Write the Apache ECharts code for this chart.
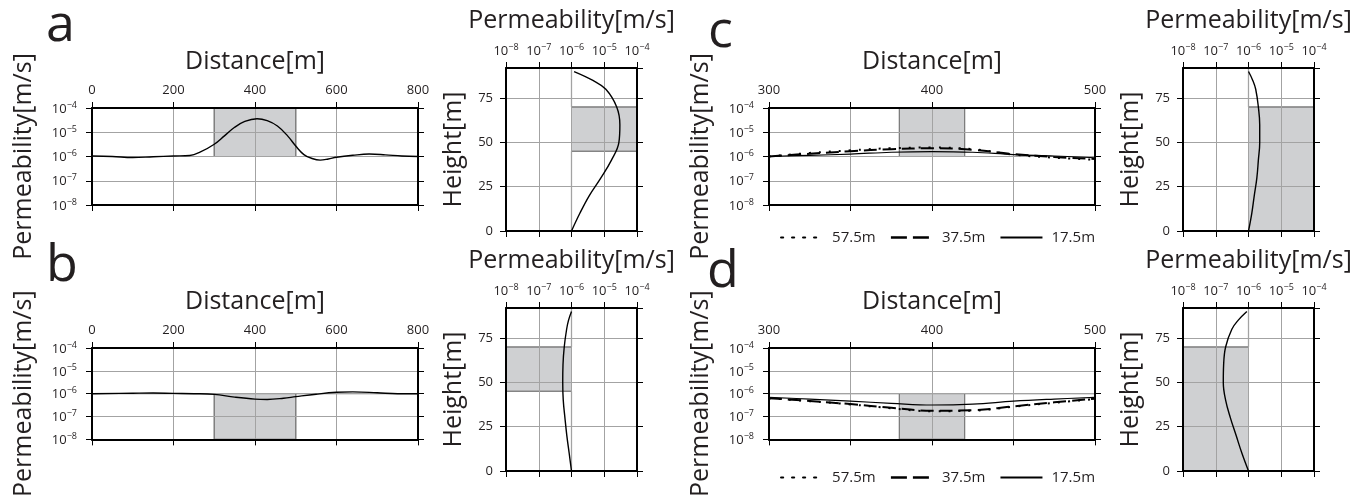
<!DOCTYPE html>
<html>
<head>
<meta charset="utf-8">
<script src="https://cdn.jsdelivr.net/npm/echarts@6/dist/echarts.min.js"></script>
<style>
  html, body { margin: 0; padding: 0; background: #fff; }
  #chart { width: 1365px; height: 499px; }
</style>
</head>
<body>
<div id="chart"></div>
<script>
// horizontal profiles (left panels): distance [m] -> permeability [m/s]
var aDist = [0, 50, 100, 150, 200, 240, 265, 300, 325, 350, 375, 405, 430, 455, 480, 500, 520, 540, 560, 580, 600, 640, 680, 720, 760, 800];
var aPerm = [1.05e-6, 1.0e-6, 9.1e-7, 9.8e-7, 1.05e-6, 1.1e-6, 1.5e-6, 3.2e-6, 7.1e-6, 1.6e-5, 2.8e-5, 3.6e-5, 3.0e-5, 1.8e-5, 7.1e-6, 2.7e-6, 1.2e-6, 8.3e-7, 7.1e-7, 7.9e-7, 9.3e-7, 1.12e-6, 1.26e-6, 1.17e-6, 1.05e-6, 1.0e-6];
var bDist = [0, 100, 150, 200, 250, 300, 350, 400, 430, 470, 500, 550, 600, 640, 700, 750, 800];
var bPerm = [1.0e-6, 1.05e-6, 1.07e-6, 1.03e-6, 1.0e-6, 9.3e-7, 7.1e-7, 5.8e-7, 5.6e-7, 6.3e-7, 7.4e-7, 9.5e-7, 1.15e-6, 1.2e-6, 1.1e-6, 1.0e-6, 1.0e-6];

// zoomed profiles (c, d) at three heights
var zoomDist = [300, 325, 350, 375, 400, 425, 450, 475, 500];
var c575 = [1.0e-6, 1.4e-6, 1.8e-6, 2.2e-6, 2.35e-6, 2.0e-6, 1.2e-6, 8.9e-7, 7.4e-7];
var c375 = [1.0e-6, 1.3e-6, 1.65e-6, 2.0e-6, 2.2e-6, 1.9e-6, 1.26e-6, 9.5e-7, 7.9e-7];
var c175 = [1.0e-6, 1.12e-6, 1.26e-6, 1.5e-6, 1.6e-6, 1.5e-6, 1.2e-6, 1.05e-6, 8.9e-7];
var d575 = [6.3e-7, 4.7e-7, 3.4e-7, 2.3e-7, 1.7e-7, 1.8e-7, 2.7e-7, 4.0e-7, 5.8e-7];
var d375 = [6.3e-7, 4.8e-7, 3.5e-7, 2.4e-7, 1.8e-7, 1.9e-7, 2.8e-7, 4.2e-7, 6.0e-7];
var d175 = [6.9e-7, 5.8e-7, 4.7e-7, 3.8e-7, 3.2e-7, 3.5e-7, 4.7e-7, 5.8e-7, 6.9e-7];
var lineNames = ['57.5m', '37.5m', '17.5m'];

// vertical profiles (right panels): height [m] -> permeability [m/s]
var profHeight = [0, 10, 20, 30, 40, 50, 60, 70, 80, 85, 90];
var aProf = [1.0e-6, 1.8e-6, 3.5e-6, 7.9e-6, 1.66e-5, 2.8e-5, 3.0e-5, 2.4e-5, 1.12e-5, 4.5e-6, 1.2e-6];
var bProf = [1.0e-6, 8.5e-7, 7.2e-7, 6.3e-7, 5.6e-7, 5.4e-7, 5.5e-7, 6.0e-7, 7.1e-7, 8.1e-7, 1.0e-6];
var cProf = [1.0e-6, 1.26e-6, 1.5e-6, 1.8e-6, 2.0e-6, 2.2e-6, 2.2e-6, 2.0e-6, 1.66e-6, 1.35e-6, 1.0e-6];
var dProf = [1.0e-6, 6.3e-7, 4.2e-7, 2.8e-7, 2.0e-7, 1.7e-7, 1.74e-7, 2.0e-7, 3.1e-7, 4.8e-7, 8.9e-7];

// true models (grey)
var aModelDist = [0, 300, 300, 500, 500, 800];
var aModelPerm = [1e-6, 1e-6, 1e-4, 1e-4, 1e-6, 1e-6];
var bModelPerm = [1e-6, 1e-6, 1e-8, 1e-8, 1e-6, 1e-6];
var zoomModelDist = [300, 380, 380, 420, 420, 500];
var cModelPerm = [1e-6, 1e-6, 1e-4, 1e-4, 1e-6, 1e-6];
var dModelPerm = [1e-6, 1e-6, 1e-8, 1e-8, 1e-6, 1e-6];
var abModelHeight = [0, 45, 45, 70, 70, 92];
var aModelProf = [1e-6, 1e-6, 1e-4, 1e-4, 1e-6, 1e-6];
var bModelProf = [1e-6, 1e-6, 1e-8, 1e-8, 1e-6, 1e-6];
var cdModelHeight = [0, 70, 70, 92];
var cModelProf = [1e-4, 1e-4, 1e-6, 1e-6];
var dModelProf = [1e-8, 1e-8, 1e-6, 1e-6];

var FONT = '"Open Sans", sans-serif';
var TXT = '#231f20';
var GREY = '#7d7d7d';
var FILL = '#cfd0d2';

var grids = [], xAxes = [], yAxes = [], series = [];

function zip(xs, ys) {
  return xs.map(function (x, i) { return [x, ys[i]]; });
}

function powLabel(v) {
  var e = Math.round(Math.log10(v));
  return '{b|10}{s|' + (e < 0 ? '\u2212' + (-e) : e) + '}';
}
var powRich = {
  b: { fontSize: 13, color: TXT, fontFamily: FONT, verticalAlign: 'bottom' },
  s: { fontSize: 9, color: TXT, fontFamily: FONT, verticalAlign: 'bottom', padding: [0, 0, 6, 0] }
};

var frameLine = { show: true, onZero: false, lineStyle: { color: '#000', width: 2 } };
var tick = { show: true, inside: false, length: 6, lineStyle: { color: '#000', width: 1 } };
var gridLine = { show: true, lineStyle: { color: '#a3a3a3', width: 1 } };
var nameStyle = { fontSize: 25, color: TXT, fontFamily: FONT };

function twin(ax, pos) {
  return Object.assign({}, ax, {
    position: pos, name: '', axisLabel: { show: false }, splitLine: { show: false }
  });
}

function distPanel(box, xMin, xMax, xStep, shown) {
  var gi = grids.length;
  grids.push({ left: box[0], top: box[1], width: box[2], height: box[3] });
  var xi = xAxes.length, yi = yAxes.length;
  var x = {
    gridIndex: gi, type: 'value', position: 'top', min: xMin, max: xMax, interval: xStep, z: 3,
    name: 'Distance[m]', nameLocation: 'middle', nameGap: 34, nameTextStyle: nameStyle,
    axisLine: frameLine, axisTick: tick, splitLine: gridLine,
    axisLabel: { margin: 11, fontSize: 13, color: TXT, fontFamily: FONT,
      formatter: function (v) { return shown.indexOf(v) >= 0 ? String(v) : ''; } }
  };
  var y = {
    gridIndex: gi, type: 'log', logBase: 10, min: 1e-8, max: 1e-4, position: 'left', z: 3,
    name: 'Permeability[m/s]', nameLocation: 'middle', nameGap: 56, nameTextStyle: nameStyle,
    axisLine: frameLine, axisTick: tick, splitLine: gridLine,
    axisLabel: { margin: 15, formatter: powLabel, rich: powRich }
  };
  xAxes.push(x, twin(x, 'bottom'));
  yAxes.push(y, twin(y, 'right'));
  return { x: xi, y: yi };
}

function profPanel(box) {
  var gi = grids.length;
  grids.push({ left: box[0], top: box[1], width: box[2], height: box[3] });
  var xi = xAxes.length, yi = yAxes.length;
  var x = {
    gridIndex: gi, type: 'log', logBase: 10, min: 1e-8, max: 1e-4, position: 'top', z: 3,
    name: 'Permeability[m/s]', nameLocation: 'middle', nameGap: 35, nameTextStyle: nameStyle,
    axisLine: frameLine, axisTick: tick, splitLine: gridLine,
    axisLabel: { margin: 10, formatter: powLabel, rich: powRich }
  };
  var y = {
    gridIndex: gi, type: 'value', min: 0, max: 92, interval: 25, position: 'left', z: 3,
    name: 'Height[m]', nameLocation: 'middle', nameGap: 40, nameTextStyle: nameStyle,
    axisLine: frameLine, axisTick: tick, splitLine: gridLine,
    axisLabel: { margin: 13, fontSize: 13, color: TXT, fontFamily: FONT, showMaxLabel: false }
  };
  xAxes.push(x, twin(x, 'bottom'));
  yAxes.push(y, twin(y, 'right'));
  return { x: xi, y: yi };
}

function model(ax, data, rect) {
  series.push({
    type: 'line', xAxisIndex: ax.x, yAxisIndex: ax.y, data: data, symbol: 'none', z: 2,
    color: GREY, lineStyle: { color: GREY, width: 1.2 }, silent: true,
    markArea: { silent: true, itemStyle: { color: FILL, borderColor: GREY, borderWidth: 1 },
      data: [[{ coord: rect[0] }, { coord: rect[1] }]] }
  });
}

function curve(ax, data, name, type, width) {
  series.push({
    type: 'line', name: name, xAxisIndex: ax.x, yAxisIndex: ax.y, data: data, symbol: 'none',
    smooth: 0.4, z: 5, silent: true, color: '#000',
    lineStyle: { color: '#000', width: width || 1.4, type: type || 'solid' }
  });
}

var dotted = [2, 8], dashed = [13, 6];

// a
var pa = distPanel([92, 108, 326, 97], 0, 800, 200, [0, 200, 400, 600, 800]);
model(pa, zip(aModelDist, aModelPerm), [[300, 1e-6], [500, 1e-4]]);
curve(pa, zip(aDist, aPerm));
var pa2 = profPanel([506, 68, 131, 163]);
model(pa2, zip(aModelProf, abModelHeight), [[1e-6, 45], [1e-4, 70]]);
curve(pa2, zip(aProf, profHeight));

// b
var pb = distPanel([92, 348, 326, 97], 0, 800, 200, [0, 200, 400, 600, 800]);
model(pb, zip(aModelDist, bModelPerm), [[300, 1e-8], [500, 1e-6]]);
curve(pb, zip(bDist, bPerm));
var pb2 = profPanel([506, 308, 131, 163]);
model(pb2, zip(bModelProf, abModelHeight), [[1e-8, 45], [1e-6, 70]]);
curve(pb2, zip(bProf, profHeight));

// c
var pc = distPanel([769, 108, 326, 97], 300, 500, 50, [300, 400, 500]);
model(pc, zip(zoomModelDist, cModelPerm), [[380, 1e-6], [420, 1e-4]]);
curve(pc, zip(zoomDist, c575), lineNames[0], dotted, 2);
curve(pc, zip(zoomDist, c375), lineNames[1], dashed, 2);
curve(pc, zip(zoomDist, c175), lineNames[2], 'solid', 1.2);
var pc2 = profPanel([1183, 68, 131, 163]);
model(pc2, zip(cModelProf, cdModelHeight), [[1e-6, 0], [1e-4, 70]]);
curve(pc2, zip(cProf, profHeight));

// d
var pd = distPanel([769, 348, 326, 97], 300, 500, 50, [300, 400, 500]);
model(pd, zip(zoomModelDist, dModelPerm), [[380, 1e-8], [420, 1e-6]]);
curve(pd, zip(zoomDist, d575), lineNames[0], dotted, 2);
curve(pd, zip(zoomDist, d375), lineNames[1], dashed, 2);
curve(pd, zip(zoomDist, d175), lineNames[2], 'solid', 1.2);
var pd2 = profPanel([1183, 308, 131, 163]);
model(pd2, zip(dModelProf, cdModelHeight), [[1e-8, 0], [1e-6, 70]]);
curve(pd2, zip(dProf, profHeight));

var legendLines = [
  { color: '#000', width: 2.2, type: [2, 9], cap: 'round' },
  { color: '#000', width: 2.5, type: [16, 6] },
  { color: '#000', width: 2, type: 'solid' }
];

function legendAt(top) {
  return {
    left: 775, top: top, selectedMode: false,
    data: lineNames.map(function (n, i) { return { name: n, lineStyle: legendLines[i] }; }),
    itemWidth: 42, itemHeight: 12, itemGap: 14,
    itemStyle: { opacity: 0 },
    textStyle: { fontSize: 15, color: TXT, fontFamily: FONT, padding: [0, 0, 0, 4] }
  };
}

function letter(ch, x, y) {
  return { type: 'text', left: x, top: y, silent: true,
    style: { text: ch, font: '52px ' + FONT, fill: TXT } };
}

var chart = echarts.init(document.getElementById('chart'), null, { renderer: 'canvas' });
chart.setOption({
  animation: false,
  backgroundColor: '#fff',
  textStyle: { fontFamily: FONT },
  grid: grids,
  xAxis: xAxes,
  yAxis: yAxes,
  legend: [legendAt(225), legendAt(465)],
  graphic: [letter('a', 46, 0), letter('b', 46, 240), letter('c', 708, 6), letter('d', 707, 246)],
  series: series
});
</script>
</body>
</html>
